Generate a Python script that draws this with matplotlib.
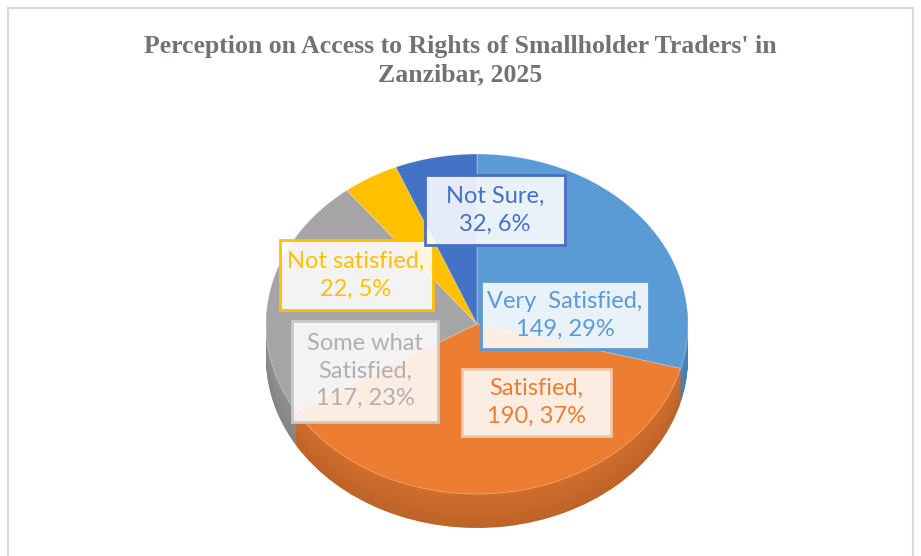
import matplotlib
matplotlib.use("Agg")
import matplotlib.pyplot as plt
from matplotlib.patches import Rectangle
import numpy as np

# ---- data ----
categories = ["Very  Satisfied,", "Satisfied,", "Some what\nSatisfied,", "Not satisfied,", "Not Sure,"]
counts = [149, 190, 117, 22, 32]
percents = [29, 37, 23, 5, 6]
title = "Perception on Access to Rights of Smallholder Traders' in\nZanzibar, 2025"

# ---- style ----
colors = ["#5B9BD5", "#ED7D31", "#A5A5A5", "#FFC000", "#4472C4"]
text_colors = ["#5B9BD5", "#ED7D31", "#B0B0B0", "#FFC000", "#4472C4"]
edge_colors = ["#5B9BD5", "#F0C8A8", "#C8C8C8", "#FFC000", "#4472C4"]
# label boxes in pixel coordinates: centre x, centre y (from top), width, height
label_box = [(565, 315, 168, 68), (536, 402, 149, 67), (365, 371, 146, 101),
             (356, 275, 153, 70), (495, 210, 140, 70)]

W, H = 921, 556
cx, cy, rx, ry, depth = 477, 324, 211, 170, 34

def darker(c, f):
    r, g, b = matplotlib.colors.to_rgb(c)
    return (r * f, g * f, b * f)

fig = plt.figure(figsize=(W / 100, H / 100), dpi=100)
ax = fig.add_axes([0, 0, 1, 1])

# side (extrusion) layers
nlayers = 30
for k in range(nlayers, 0, -1):
    off = depth * k / nlayers / ry
    shade = 0.80 + 0.08 * (1 - k / nlayers)
    ax.pie(counts, colors=[darker(c, shade) for c in colors], startangle=90,
           counterclock=False, center=(0, -off), radius=1.0,
           wedgeprops=dict(linewidth=0))

# top surface
ax.pie(counts, colors=colors, startangle=90, counterclock=False,
       center=(0, 0), radius=1.0, wedgeprops=dict(linewidth=0.6, edgecolor=(1, 1, 1, 0.35)))

ax.set_aspect("auto")
ax.set_xlim((0 - cx) / rx, (W - cx) / rx)
ax.set_ylim((cy - H) / ry, cy / ry)
ax.axis("off")

# labels
for cat, n, p, tc, ec, (px, py, bw, bh) in zip(categories, counts, percents, text_colors,
                                               edge_colors, label_box):
    fig.add_artist(Rectangle(((px - bw / 2) / W, 1 - (py + bh / 2) / H), bw / W, bh / H,
                             transform=fig.transFigure, facecolor=(1, 1, 1, 0.87),
                             edgecolor=ec, linewidth=2.0))
    fig.text(px / W, 1 - py / H, f"{cat}\n{n}, {p}%", ha="center", va="center",
             multialignment="center", fontsize=17, family="Lato", color=tc,
             linespacing=1.4)

# title
fig.text(0.5, 1 - 61 / H, title, ha="center", va="center", fontsize=18.5,
         family="Liberation Serif", fontweight="bold", color="#767171", linespacing=1.3)

# chart border
fig.add_artist(Rectangle((8 / W, -0.05), (913 - 8) / W, 1.05 - 8 / H,
                         transform=fig.transFigure, fill=False, edgecolor="#D9D9D9", linewidth=1.5))

fig.savefig("out.png", dpi=100)
